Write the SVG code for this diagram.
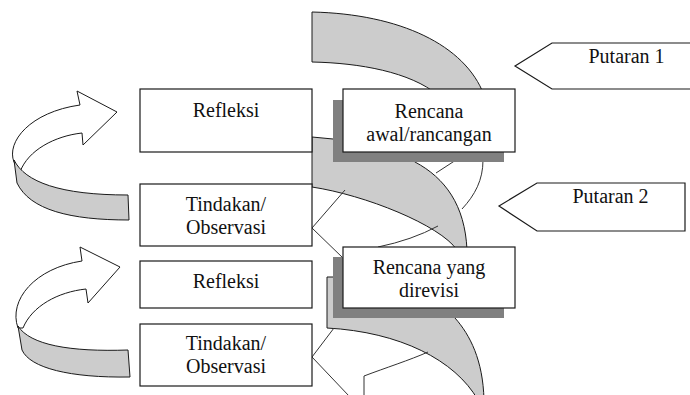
<svg xmlns="http://www.w3.org/2000/svg" width="690" height="395" viewBox="0 0 690 395">
<style>
.box{fill:#fff;stroke:#1a1a1a;stroke-width:1.2}
.shadow{fill:#808080}
.band{fill:#cccccc;stroke:#1a1a1a;stroke-width:1}
.wh{fill:#fff;stroke:#1a1a1a;stroke-width:1}
.ln{fill:none;stroke:#333;stroke-width:1}
text{font-size:20px;fill:#111;text-anchor:middle}
</style>
<rect width="690" height="395" fill="#fff"/>
<g id="connectors">
  <path class="band" d="M312,12 C400,14 465,45 484,95 L438,95 C410,72 360,63 312,62 Z"/>
  <path class="band" d="M312,137 L333,139 L400,150 L415,162 C445,178 465,205 467,250 L457,250 C440,225 365,195 312,187 Z"/>
  <path class="ln" d="M312,228 L345,190"/>
  <path class="ln" d="M312,228 L343,258"/>
  <path class="ln" d="M378,247 Q412,240 438,226"/>
  <path class="ln" d="M436,173 L456,160"/>
  <path class="ln" d="M483,160 C483,180 475,195 462,209"/>
  <path class="band" d="M327,277 L420,277 L455,318 C470,335 483,360 484,400 L478,400 C455,360 400,332 327,328 Z"/>
  <path class="ln" d="M312,357 L334,328"/>
  <path class="ln" d="M312,357 L349,396"/>
  <path class="ln" d="M364,396 L364,376 C385,368 410,360 428,352"/>
  <path class="wh" d="M14,162 C6,142 30,112 80,105 L77,91 L117,112 L83,145 L82,133 C55,136 28,150 20,172 Z"/>
  <path class="band" d="M14,160 C25,182 60,195 128,195 L129,220 C70,220 30,210 17,183 Z"/>
  <path class="wh" d="M18,328 C8,300 35,268 82,261 L80,247 L120,267 L88,303 L86,289 C58,292 32,306 23,328 Z"/>
  <path class="band" d="M18,326 C30,345 70,352 128,350 L130,377 C70,378 30,368 22,350 Z"/>
</g>
<g id="refleksi1" font-family="Liberation Serif, DejaVu Serif, serif">
  <rect class="box" x="140" y="89" width="172" height="63"/>
  <text x="226" y="117">Refleksi</text>
</g>
<g id="tindakan1" font-family="Liberation Serif, DejaVu Serif, serif">
  <rect class="box" x="140" y="184" width="172" height="62"/>
  <text x="226" y="211">Tindakan/</text>
  <text x="226" y="234">Observasi</text>
</g>
<g id="refleksi2" font-family="Liberation Serif, DejaVu Serif, serif">
  <rect class="box" x="140" y="261" width="172" height="47"/>
  <text x="226" y="288">Refleksi</text>
</g>
<g id="tindakan2" font-family="Liberation Serif, DejaVu Serif, serif">
  <rect class="box" x="140" y="324" width="172" height="62"/>
  <text x="226" y="350">Tindakan/</text>
  <text x="226" y="373">Observasi</text>
</g>
<g id="rencana-awal" font-family="Liberation Serif, DejaVu Serif, serif">
  <rect class="shadow" x="333" y="100" width="171" height="62"/>
  <rect class="box" x="343" y="89" width="172" height="63"/>
  <text x="429" y="118">Rencana</text>
  <text x="429" y="141">awal/rancangan</text>
</g>
<g id="rencana-revisi" font-family="Liberation Serif, DejaVu Serif, serif">
  <rect class="shadow" x="333" y="257" width="171" height="61"/>
  <rect class="box" x="343" y="247" width="172" height="61"/>
  <text x="429" y="274">Rencana yang</text>
  <text x="429" y="297">direvisi</text>
</g>
<g id="putaran1" font-family="Liberation Serif, DejaVu Serif, serif">
  <path class="box" d="M515,66 L552,43 L700,43 L700,89 L552,89 Z"/>
  <text x="626.5" y="63">Putaran 1</text>
</g>
<g id="putaran2" font-family="Liberation Serif, DejaVu Serif, serif">
  <path class="box" d="M499,206 L537,183 L685,183 L685,231 L537,231 Z"/>
  <text x="610.5" y="203">Putaran 2</text>
</g>
</svg>
